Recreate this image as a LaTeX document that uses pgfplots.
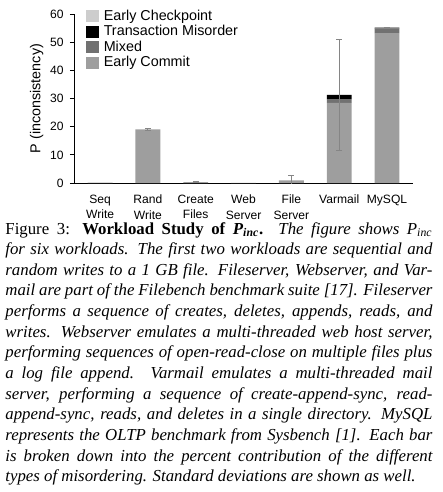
\documentclass[border=0pt]{standalone}
\usepackage{fontspec}
\setmainfont{Liberation Serif}
\newfontfamily\chartfont{Liberation Sans}
\usepackage{pgfplots}
\usepackage{pgfplotstable}
\pgfplotsset{compat=1.18}

\definecolor{ecommit}{HTML}{9E9E9E}
\definecolor{mixedc}{HTML}{717171}
\definecolor{echeck}{HTML}{CDCDCD}
\definecolor{errc}{HTML}{858585}

\pgfplotstableread{
x commit mixed misorder checkpoint
0 0.15 0 0 0
1 19.1 0 0 0
2 0.3 0 0 0
3 0.1 0 0 0
4 1.0 0 0 0
5 28.5 1.3 1.5 0
6 53.2 1.7 0.25 0
}\bars

\pgfplotstableread{
x y err
1 19.1 0.3
2 0.3 0.1
4 1.1 1.6
5 31.2 19.8
6 55.1 0.15
}\errs

\newcommand\cl[1]{\hbox to 244pt{#1}}

\begin{document}
\begin{tikzpicture}
\path[use as bounding box] (0,0) rectangle (253.1pt,281.1pt);
\pgfplotsset{commonaxis/.style={scale only axis, width=193.7pt, height=96.6pt,
  xmin=-0.545, xmax=6.545, ymin=0, ymax=60, at={(42.3pt,176.5pt)}, anchor=south west}}
\begin{axis}[commonaxis, ybar stacked, bar width=0.52,
  axis x line=bottom, axis y line=left,
  axis line style={-, line width=0.6pt, black},
  ytick={0,10,...,60}, tick align=outside, major tick length=2.4pt,
  y tick style={black, line width=0.5pt},
  xtick={0,...,6}, x tick style={draw=none},
  xticklabels={{Seq\\Write},{Rand\\Write},{Create\\Files},{Web\\Server},{File\\Server},{Varmail},{MySQL}},
  xticklabel style={align=center, yshift=-1pt, font=\chartfont\fontsize{6.9}{8.6}\selectfont},
  yticklabel style={font=\chartfont\fontsize{6.9}{8.6}\selectfont},
  /pgf/number format/assume math mode=true,
  ylabel={P (inconsistency)},
  ylabel style={font=\chartfont\fontsize{8.2}{9}\selectfont, at={(axis description cs:-0.11,0.5)}, anchor=center},
  reverse legend,
  legend style={draw=none, fill=none, at={(axis description cs:0.035,1.035)}, anchor=north west,
    inner sep=0pt, row sep=0pt, font=\chartfont\fontsize{8.2}{9}\selectfont,
    nodes={inner sep=0.2pt, text height=6.6pt, text depth=1.85pt}},
  legend cell align=left,
  legend image code/.code={\fill[#1] (0pt,-3.4pt) rectangle (7pt,3.4pt); \path (9.8pt,0pt);},
]
\addplot[fill=ecommit, draw=none] table[x=x, y=commit] {\bars};
\addplot[fill=mixedc, draw=none] table[x=x, y=mixed] {\bars};
\addplot[fill=black, draw=none] table[x=x, y=misorder] {\bars};
\addplot[fill=echeck, draw=none] table[x=x, y=checkpoint] {\bars};
\legend{Early Commit, Mixed, Transaction Misorder, Early Checkpoint}
\end{axis}
\begin{axis}[commonaxis, hide axis]
\addplot[mark=none, draw=none, error bars/.cd, y dir=both, y explicit,
  error bar style={draw=errc, line width=0.6pt},
  error mark options={rotate=90, draw=errc, mark size=1.7pt, line width=0.6pt}]
  table[x=x, y=y, y error=err] {\errs};
\end{axis}
\node[anchor=base west, inner sep=0pt] at (2.9pt,147.4pt) {\vtop{\fontsize{9.6}{11.8}\selectfont
\cl{Figure 3: \textbf{Workload Study of \textit{P}\textsubscript{\textit{inc}}.}\ \ \textit{The figure shows P\textsubscript{inc}}}
\itshape
\cl{for six workloads. The first two workloads are sequential and}
\cl{random writes to a 1 GB file. Fileserver, Webserver, and Var-}
\cl{mail are part of the Filebench benchmark suite [17]. Fileserver}
\cl{performs a sequence of creates, deletes, appends, reads, and}
\cl{writes. Webserver emulates a multi-threaded web host server,}
\cl{performing sequences of open-read-close on multiple files plus}
\cl{a log file append. Varmail emulates a multi-threaded mail}
\cl{server, performing a sequence of create-append-sync, read-}
\cl{append-sync, reads, and deletes in a single directory. MySQL}
\cl{represents the OLTP benchmark from Sysbench [1]. Each bar}
\cl{is broken down into the percent contribution of the different}
\cl{types of misordering. Standard deviations are shown as well.\hfil}
}};
\end{tikzpicture}
\end{document}
